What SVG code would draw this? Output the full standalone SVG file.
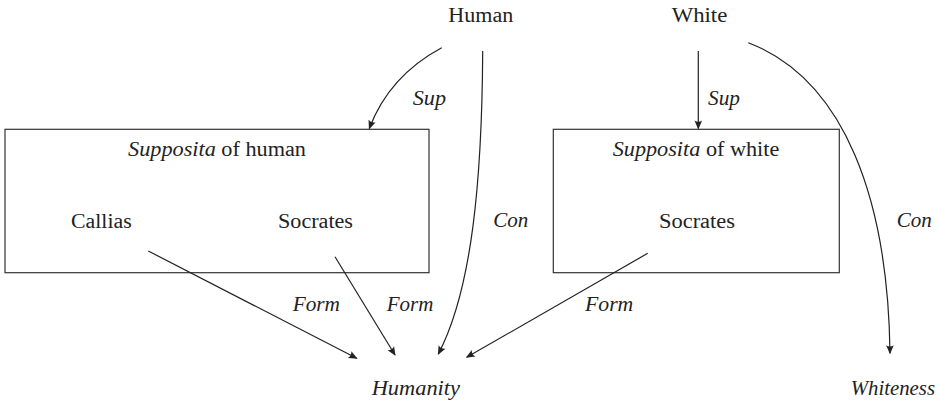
<svg xmlns="http://www.w3.org/2000/svg" width="938" height="404" viewBox="0 0 938 404">
<style>
text{font-family:"Liberation Serif","Times New Roman",Tinos,"DejaVu Serif","Noto Serif",Times,serif;font-size:20px;fill:#222}
.it{font-style:italic}
.box{fill:none;stroke:#333;stroke-width:1.2}
.edge{fill:none;stroke:#222;stroke-width:1.2;marker-end:url(#ah)}
</style>
<defs>
<marker id="ah" viewBox="-10 -5 12 10" refX="0" refY="0" markerWidth="12" markerHeight="10" markerUnits="userSpaceOnUse" orient="auto">
<path d="M1,0 L-8,-3.8 Q-5.5,0 -8,3.8 Z" fill="#222"/>
</marker>
</defs>
<rect width="938" height="404" fill="#fff"/>

<g id="human">
<text x="448.3" y="21.7" textLength="65" lengthAdjust="spacingAndGlyphs">Human</text>
</g>
<g id="white">
<text x="671.7" y="21.7" textLength="55.6" lengthAdjust="spacingAndGlyphs">White</text>
</g>

<g id="supposita-human">
<rect class="box" x="5" y="129.3" width="424" height="143.4"/>
<text x="128" y="155.7" textLength="178" lengthAdjust="spacingAndGlyphs"><tspan class="it">Supposita</tspan> of human</text>
</g>
<g id="callias">
<text x="71" y="228" textLength="60.7" lengthAdjust="spacingAndGlyphs">Callias</text>
</g>
<g id="socrates-human">
<text x="278" y="228" textLength="75" lengthAdjust="spacingAndGlyphs">Socrates</text>
</g>

<g id="supposita-white">
<rect class="box" x="553.3" y="129.3" width="286" height="143.4"/>
<text x="612.7" y="155.7" textLength="166.6" lengthAdjust="spacingAndGlyphs"><tspan class="it">Supposita</tspan> of white</text>
</g>
<g id="socrates-white">
<text x="659" y="227.7" textLength="76" lengthAdjust="spacingAndGlyphs">Socrates</text>
</g>

<g id="humanity">
<text class="it" x="371.7" y="395" textLength="88.3" lengthAdjust="spacingAndGlyphs">Humanity</text>
</g>
<g id="whiteness">
<text class="it" x="850.7" y="395" textLength="84.3" lengthAdjust="spacingAndGlyphs">Whiteness</text>
</g>

<g id="connectors">
<path class="edge" d="M441.7,47.7 Q389,76 369.3,128.5"/>
<path class="edge" d="M482.7,51 C482,180 472,290 438.3,354"/>
<path class="edge" d="M148.3,251 L356.7,358.3"/>
<path class="edge" d="M335,256.7 L395,355"/>
<path class="edge" d="M647.7,253.3 L466.7,357.3"/>
<path class="edge" d="M698.3,51 L698.3,128.5"/>
<path class="edge" d="M748.3,42.7 C845,80 888,200 890,353.3"/>
<text class="it" x="412.7" y="105" textLength="33.3" lengthAdjust="spacingAndGlyphs">Sup</text>
<text class="it" x="708" y="105" textLength="32" lengthAdjust="spacingAndGlyphs">Sup</text>
<text class="it" x="493.3" y="226.7" textLength="35" lengthAdjust="spacingAndGlyphs">Con</text>
<text class="it" x="896.7" y="227.3" textLength="35" lengthAdjust="spacingAndGlyphs">Con</text>
<text class="it" x="292.7" y="311" textLength="47.3" lengthAdjust="spacingAndGlyphs">Form</text>
<text class="it" x="386.7" y="311" textLength="46.6" lengthAdjust="spacingAndGlyphs">Form</text>
<text class="it" x="585" y="310.7" textLength="48.3" lengthAdjust="spacingAndGlyphs">Form</text>
</g>
</svg>
